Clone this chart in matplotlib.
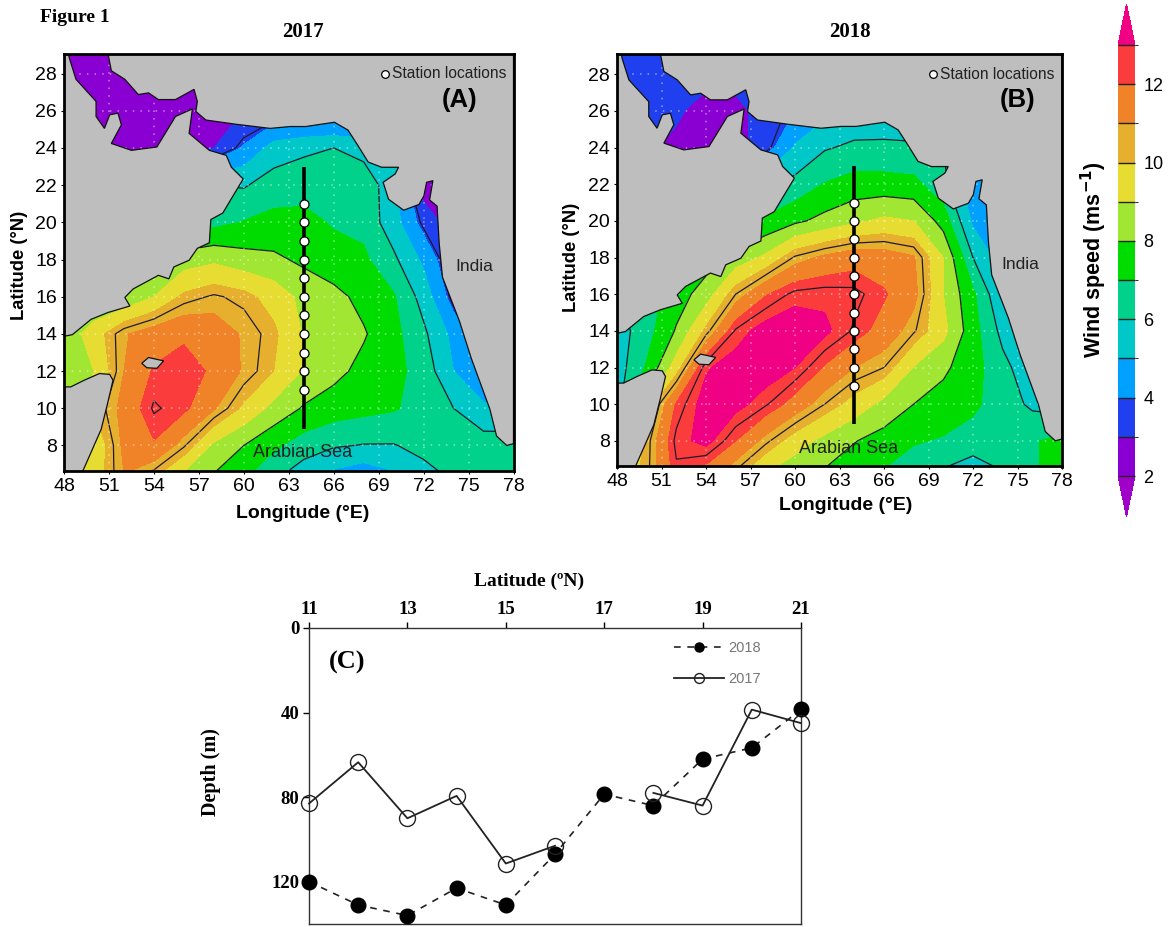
import numpy as np
import matplotlib
matplotlib.use('Agg')
import matplotlib.pyplot as plt
from matplotlib.colors import ListedColormap, BoundaryNorm

W, H = 1171, 927
SANS = 'Liberation Sans'
SERIF = 'Liberation Serif'

## ---------------------------------------------------------------------
## wind speed (m/s), rows go with lats, columns with lons
lons = np.arange(48, 79, 2)
lats = [6.5, 8, 10, 12, 14, 16, 18, 20, 22, 24, 26, 28, 29.5]

wind_2017 = [
    [9.0, 9.5, 11.0, 10.3, 8.9, 8.0, 7.2, 6.3, 5.5, 4.8, 4.4, 4.9, 5.7, 6.2, 6.5, 6.8],
    [8.0, 9.2, 11.2, 11.9, 10.6, 8.8, 8.0, 7.2, 6.5, 6.1, 5.95, 5.95, 6.3, 6.6, 6.5, 6.6],
    [8.0, 10.0, 11.3, 12.6, 12.2, 11.1, 9.8, 8.7, 7.9, 7.5, 7.3, 7.1, 6.6, 6.0, 5.2, 5.0],
    [8.4, 9.0, 11.0, 12.1, 12.5, 11.8, 10.9, 10.0, 8.9, 8.3, 7.7, 7.3, 6.6, 5.0, 4.0, 4.0],
    [8.3, 9.5, 10.9, 11.5, 11.8, 11.5, 10.9, 10.2, 8.9, 8.5, 8.1, 7.3, 6.2, 4.7, 3.5, 3.5],
    [8.0, 8.0, 8.1, 9.0, 10.2, 10.6, 10.3, 9.6, 8.7, 8.3, 7.7, 7.1, 5.6, 3.5, 3.0, 3.0],
    [8.0, 8.0, 8.0, 8.2, 8.5, 8.8, 8.4, 8.2, 7.8, 7.4, 7.2, 6.2, 4.8, 3.0, 3.0, 3.0],
    [6.0, 6.0, 6.0, 6.0, 6.5, 6.7, 7.05, 7.3, 7.3, 6.9, 6.7, 5.4, 3.6, 2.5, 2.5, 2.5],
    [5.0, 5.0, 5.0, 5.0, 5.5, 6.0, 5.9, 6.5, 6.6, 6.6, 6.5, 5.5, 2.5, 2.0, 2.0, 2.0],
    [2.5, 2.5, 2.5, 2.5, 2.5, 3.0, 4.1, 5.4, 5.8, 6.0, 5.7, 5.0, 2.5, 2.0, 2.0, 2.0],
    [2.4, 2.4, 2.5, 2.5, 2.5, 2.6, 3.0, 3.2, 3.0, 3.0, 3.0, 3.0, 2.5, 2.0, 2.0, 2.0],
    [2.4, 2.4, 2.4, 2.4, 2.4, 2.4, 2.4, 2.4, 2.4, 2.4, 2.4, 2.4, 2.4, 2.4, 2.4, 2.4],
    [2.4, 2.4, 2.4, 2.4, 2.4, 2.4, 2.4, 2.4, 2.4, 2.4, 2.4, 2.4, 2.4, 2.4, 2.4, 2.4],
]

wind_2018 = [
    [9.0, 10.3, 12.4, 11.8, 10.6, 9.2, 8.5, 8.0, 7.5, 7.0, 6.5, 6.0, 5.5, 6.1, 6.9, 7.3],
    [8.0, 10.2, 12.7, 13.3, 12.0, 10.7, 9.5, 8.7, 8.05, 7.6, 7.1, 6.9, 6.6, 6.4, 6.9, 7.3],
    [5.5, 9.3, 12.1, 13.4, 13.3, 12.6, 11.6, 10.5, 9.6, 8.7, 8.0, 7.6, 7.2, 6.5, 5.8, 5.5],
    [5.5, 7.1, 9.5, 12.9, 13.4, 13.5, 13.0, 11.9, 11.0, 10.5, 8.95, 8.2, 7.4, 6.3, 5.3, 5.0],
    [5.5, 6.6, 8.1, 10.2, 12.6, 13.4, 13.6, 13.2, 12.4, 11.6, 10.6, 9.3, 7.4, 5.7, 5.0, 5.0],
    [6.0, 6.5, 7.5, 8.5, 10.5, 11.9, 12.7, 12.8, 12.7, 12.1, 11.3, 9.0, 7.2, 5.0, 4.5, 4.5],
    [6.0, 6.5, 7.0, 7.5, 8.4, 9.2, 10.6, 11.2, 11.6, 11.5, 11.1, 9.0, 6.0, 4.5, 4.5, 4.5],
    [6.0, 6.0, 6.0, 6.0, 6.5, 7.2, 7.8, 8.3, 8.8, 9.2, 9.0, 7.6, 4.8, 4.0, 4.0, 4.0],
    [5.5, 5.5, 5.5, 5.5, 5.5, 5.8, 6.3, 7.05, 7.4, 7.4, 7.3, 6.3, 4.2, 4.0, 4.0, 4.0],
    [3.4, 3.2, 2.7, 2.5, 2.6, 3.5, 5.1, 5.9, 6.2, 6.2, 6.1, 6.0, 4.0, 4.0, 4.0, 4.0],
    [3.4, 3.3, 3.2, 2.5, 2.7, 3.4, 4.0, 4.7, 5.2, 5.3, 5.5, 5.5, 4.0, 4.0, 4.0, 4.0],
    [3.4, 3.4, 3.4, 3.4, 3.4, 3.4, 3.4, 3.4, 3.4, 3.4, 3.4, 3.4, 3.4, 3.4, 3.4, 3.4],
    [3.4, 3.4, 3.4, 3.4, 3.4, 3.4, 3.4, 3.4, 3.4, 3.4, 3.4, 3.4, 3.4, 3.4, 3.4, 3.4],
]

## coastlines as (lon, lat)
somalia = [(48, 6.6), (49.24, 6.6), (49.69, 7.42), (50.48, 8.87), (50.93, 10.33), (51.27, 11.51),
           (51.05, 11.82), (50.37, 11.87), (49.35, 11.51), (48.45, 11.15), (48, 11.15)]
arabia = [(48, 13.87), (48.56, 13.96), (49.8, 14.78), (50.93, 15.15), (52.4, 15.5), (52.06, 15.96),
          (52.62, 16.42), (54.3, 17.15), (55, 16.96), (55.33, 17.6), (56.35, 17.96), (56.9, 18.6),
          (57.7, 18.9), (57.8, 20.15), (58.6, 20.5), (59.28, 21.42), (59.96, 22.33), (59.17, 22.96),
          (58.83, 23.6), (57.7, 23.87), (56.35, 24.78), (56.57, 26.1), (55.44, 25.69), (54.2, 24.05),
          (52.5, 23.87), (51.16, 24.24), (51.83, 25.24), (51.6, 25.87), (51.05, 25.78), (50.7, 25.05),
          (50.14, 25.69), (50.14, 26.5), (48.8, 27.69), (48.34, 28.87), (48.3, 29.1), (48, 29.1)]
iran_india = [(50.93, 29.1), (51.16, 28.15), (52.06, 27.69), (52.96, 26.87), (53.64, 26.96), (54.3, 26.6),
              (55.44, 26.6), (56.68, 27.15), (56.9, 26.5), (56.8, 25.96), (57.47, 25.5), (59.5, 25.27),
              (61.76, 25.05), (63.1, 25.15), (64.13, 25.15), (66.05, 25.38), (66.95, 24.96), (67.6, 24.15),
              (68.3, 23.24), (69.2, 22.96), (70.33, 22.96), (70.1, 22.6), (69.3, 22.15), (69.66, 21.24),
              (70.67, 20.65), (71.69, 20.96), (72.02, 21.42), (72.2, 22.15), (72.62, 22.24), (72.4, 21.2),
              (72.9, 20.87), (73.04, 18.87), (73.26, 17.05), (74.39, 14.69), (75.18, 12.69), (76.42, 9.96),
              (76.87, 8.51), (77.55, 8), (78, 8.1), (78, 29.1)]
socotra = [(53.19, 12.42), (53.64, 12.73), (54.65, 12.55), (54.2, 12.15), (53.53, 12.18)]

station_lats = [11, 12, 13, 14, 15, 16, 17, 18, 19, 20, 21]
track_lon = 64
track_lats = [8.9, 23]

## mixed layer depth, panel C
lat_c = [11, 12, 13, 14, 15, 16, 17, 18, 19, 20, 21]
depth_2018 = [120, 131, 136, 123, 131, 107, 78.6, 84, 62, 56.7, 38.5]
depth_2017 = [83, 63.5, 90, 79.4, 111.4, 103, np.nan, 78, 84, 38.6, 45]

levels = [2, 3, 4, 5, 6, 7, 8, 9, 10, 11, 12, 13]
line_levels = [3.8, 6, 8, 10.5, 12.5]
colors = ['#a000c8', '#8a00d2', '#2040f0', '#00a0ff', '#00c8c8', '#00d28c', '#00dc00',
          '#a0e632', '#e6dc32', '#e6af2d', '#f08228', '#fa3c3c', '#f00082']
colors_in = colors[1:-1]


def axes_px(left, top, right, bottom):
    return fig.add_axes([left / W, 1 - bottom / H, (right - left) / W, (bottom - top) / H])


def fig_text(x, y, s, **kw):
    kw.setdefault('ha', 'center')
    kw.setdefault('va', 'center')
    return fig.text(x / W, 1 - y / H, s, **kw)


## ---------------------------------------------------------------------
## wind maps
def wind_map(ax, wind, ylim, tag, tag_lon, legend_lon, india_xy, sea_xy):
    cf = ax.contourf(lons, lats, np.array(wind), levels=levels, cmap=cmap, norm=norm, extend='both', zorder=1)
    ax.contour(lons, lats, np.array(wind), levels=line_levels, colors='#1c1c2c', linewidths=0.9, zorder=2)
    for land in [somalia, arabia, iran_india, socotra]:
        xs, ys = zip(*land)
        ax.fill(xs, ys, facecolor='#bebebe', edgecolor='#111111', lw=0.9, zorder=3)
    ax.set_xlim(48, 78)
    ax.set_ylim(*ylim)
    ax.set_xticks(range(48, 79, 3))
    ax.set_yticks(range(8, 29, 2))
    ax.tick_params(labelsize=14, length=2, width=0.8, pad=3, labelfontfamily=SANS)
    ax.grid(color='white', ls=(0, (1, 4)), lw=1.1, alpha=0.5, zorder=4)
    ax.set_axisbelow(False)
    for s in ax.spines.values():
        s.set_linewidth(2)
        s.set_zorder(8)
    ax.plot([track_lon, track_lon], track_lats, color='black', lw=2.6, zorder=5, solid_capstyle='butt')
    ax.plot([track_lon] * len(station_lats), station_lats, 'o', mfc='white', mec='black', mew=0.9, ms=6.5, zorder=6)
    ax.plot([legend_lon], [28.0], 'o', mfc='white', mec='black', mew=0.9, ms=5.5, zorder=6)
    ax.text(legend_lon + 0.5, 28.0, 'Station locations', fontsize=11.2, family=SANS, color='#222222', va='center', zorder=7)
    ax.text(tag_lon, 26.6, tag, fontsize=18.5, fontweight='bold', family=SANS, ha='center', va='center', zorder=7)
    ax.text(india_xy[0], india_xy[1], 'India', fontsize=12.5, family=SANS, color='#222222', ha='center', va='center', zorder=7)
    ax.text(sea_xy[0], sea_xy[1], 'Arabian Sea', fontsize=13, family=SANS, color='#202020', ha='center', va='center', zorder=7)
    return cf


fig = plt.figure(figsize=(W / 100, H / 100), dpi=100)
cmap = ListedColormap(colors_in)
cmap.set_under(colors[0])
cmap.set_over(colors[-1])
norm = BoundaryNorm(levels, len(colors_in))

ax_a = axes_px(64, 54, 513.5, 470.6)
cf = wind_map(ax_a, wind_2017, (6.65, 29.05), '(A)', 74.4, 69.4, (75.4, 17.6), (63.9, 7.6))
ax_b = axes_px(617, 54, 1062, 466.5)
wind_map(ax_b, wind_2018, (6.6, 29.1), '(B)', 75.0, 69.3, (75.2, 17.6), (63.6, 7.6))

fig_text(303, 513, 'Longitude (°E)', fontsize=14, fontweight='bold', family=SANS)
fig_text(846, 505, 'Longitude (°E)', fontsize=14, fontweight='bold', family=SANS)
fig_text(20, 265, 'Latitude (°N)', fontsize=13.2, fontweight='bold', family=SANS, rotation=90)
fig_text(572, 257, 'Latitude (°N)', fontsize=13.2, fontweight='bold', family=SANS, rotation=90)

fig_text(40, 18, 'Figure 1', fontsize=14, fontweight='bold', family=SERIF, ha='left')
fig_text(303, 32, '2017', fontsize=15, fontweight='bold', family=SERIF)
fig_text(850, 32, '2018', fontsize=15, fontweight='bold', family=SERIF)

## colour bar
cax = axes_px(1118, 4, 1135, 517)
cb = fig.colorbar(cf, cax=cax, extend='both', extendfrac=0.095, drawedges=True, ticks=range(2, 13, 2))
cb.ax.tick_params(labelsize=13, length=0, pad=6, labelfontfamily=SANS)
cb.outline.set_visible(False)
cb.dividers.set_color('#222222')
cb.dividers.set_linewidth(1)
fig_text(1094, 260, 'Wind speed (ms$\\mathbf{^{-1}}$)', fontsize=15.5, fontweight='bold', family=SANS,
         rotation=90)

## ---------------------------------------------------------------------
## panel C
ax_c = axes_px(309, 628, 801, 924)
ax_c.plot(lat_c, depth_2018, '--', color='#222222', lw=1.2, marker='o', mfc='black', mec='black', ms=10.5,
          clip_on=False, label='2018', dashes=(4, 4), zorder=4)
ax_c.plot(lat_c, depth_2017, '-', color='#222222', lw=1.3, marker='o', mfc='none', mec='#222222', mew=1, ms=11.5,
          clip_on=False, label='2017', zorder=5)
ax_c.set_xlim(11, 21)
ax_c.set_ylim(140, 0)
ax_c.set_xticks(range(11, 22, 2))
ax_c.set_yticks([0, 40, 80, 120])
ax_c.xaxis.tick_top()
ax_c.tick_params(length=4, width=1, pad=3, labelsize=13.5)
for lab in ax_c.get_xticklabels() + ax_c.get_yticklabels():
    lab.set_family(SERIF)
    lab.set_fontweight('bold')
for s in ax_c.spines.values():
    s.set_color('#333333')
    s.set_linewidth(1)
fig_text(529, 581, 'Latitude (ºN)', fontsize=14, fontweight='bold', family=SERIF)
fig_text(211, 772, 'Depth (m)', fontsize=14.5, fontweight='bold', family=SERIF, rotation=90)
fig_text(347, 662, '(C)', fontsize=19, fontweight='bold', family=SERIF)

handles, labs = ax_c.get_legend_handles_labels()
leg = ax_c.legend(handles, labs, loc='upper right', bbox_to_anchor=(0.945, 1.0), frameon=False,
                  labelcolor='#777777', handlelength=3.4, labelspacing=1.15, handletextpad=0.3, markerscale=0.62,
                  prop={'family': SANS, 'size': 10.5})

fig.savefig('out.png', dpi=100)
